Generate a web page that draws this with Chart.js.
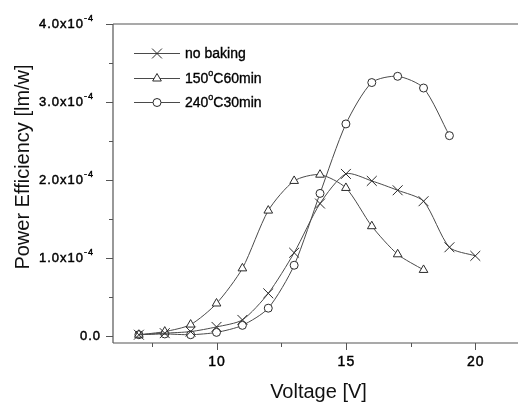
<!DOCTYPE html>
<html>
<head>
<meta charset="utf-8">
<script src="https://cdn.jsdelivr.net/npm/chart.js@4/dist/chart.umd.min.js"></script>
<style>
html,body{margin:0;padding:0;background:#fff;}
canvas{display:block;}
</style>
</head>
<body>
<canvas id="c" width="526" height="403"></canvas>
<script>
// ---- data (efficiency in units of 1e-4 lm/W) ----
const labels = ['no baking', '150°C60min', '240°C30min'];
const vNoBaking = [7, 8, 9, 10, 11, 12, 13, 14, 15, 16, 17, 18, 19, 20];
const effNoBaking = [0.02, 0.04, 0.06, 0.12, 0.21, 0.55, 1.07, 1.70, 2.08, 1.99, 1.87, 1.73, 1.14, 1.03];
const v150 = [7, 8, 9, 10, 11, 12, 13, 14, 15, 16, 17, 18];
const eff150 = [0.02, 0.06, 0.15, 0.42, 0.87, 1.61, 1.99, 2.07, 1.90, 1.41, 1.05, 0.85];
const v240 = [7, 8, 9, 10, 11, 12, 13, 14, 15, 16, 17, 18, 19];
const eff240 = [0.02, 0.03, 0.02, 0.05, 0.14, 0.36, 0.91, 1.83, 2.72, 3.25, 3.33, 3.18, 2.57];
const yTickValues = [0, 1, 2, 3, 4];
const yMinorValues = [0.5, 1.5, 2.5, 3.5];
const xTickValues = [10, 15, 20];
const xMinorValues = [7.5, 12.5, 17.5];
const yExponent = '-4';
const xTitle = 'Voltage [V]';
const yTitle = 'Power Efficiency [lm/w]';

const FONT = '"Liberation Sans", Arial, sans-serif';
const styles = ['crossRot', 'triangle', 'circle'];
const radii = [7, 5, 4];

function pts(xs, ys) { return xs.map((x, i) => ({x: x, y: ys[i]})); }

function ds(label, data, i) {
  return {
    label: label,
    data: data,
    showLine: true,
    borderColor: '#4a4a4a',
    borderWidth: 1,
    tension: 0.25,
    pointStyle: styles[i],
    pointRadius: radii[i],
    pointBorderColor: '#2a2a2a',
    pointBackgroundColor: '#ffffff',
    pointBorderWidth: 1
  };
}

function drawParts(ctx, parts, x, y, size, supSize, align, heavy) {
  let total = 0;
  const widths = parts.map(p => {
    ctx.font = (p.sup ? supSize : size) + 'px ' + FONT;
    const w = ctx.measureText(p.t).width;
    total += w;
    return w;
  });
  let cx = align === 'right' ? x - total : x;
  parts.forEach((p, i) => {
    ctx.font = (p.sup ? supSize : size) + 'px ' + FONT;
    const yy = p.sup ? y - size * 0.42 : y;
    ctx.fillText(p.t, cx, yy);
    if (heavy) { ctx.strokeText(p.t, cx, yy); }
    cx += widths[i];
  });
}

function splitDegree(label) {
  const idx = label.indexOf('°');
  if (idx < 0) return [{t: label}];
  return [{t: label.slice(0, idx)}, {t: 'o', sup: true}, {t: label.slice(idx + 1)}];
}

const decor = {
  id: 'decor',
  afterDraw(chart) {
    const ctx = chart.ctx;
    const a = chart.chartArea;
    const xs = chart.scales.x, ys = chart.scales.y;
    ctx.save();
    // axis frame (left, top, bottom)
    ctx.strokeStyle = '#555';
    ctx.lineWidth = 1.2;
    ctx.beginPath();
    ctx.moveTo(a.left, a.top); ctx.lineTo(a.right, a.top);
    ctx.moveTo(a.left, a.top); ctx.lineTo(a.left, a.bottom);
    ctx.moveTo(a.left, a.bottom); ctx.lineTo(a.right, a.bottom);
    ctx.stroke();
    // ticks
    ctx.lineWidth = 1;
    ctx.beginPath();
    yTickValues.forEach(v => { const p = Math.round(ys.getPixelForValue(v)) + 0.5; ctx.moveTo(a.left - 7, p); ctx.lineTo(a.left, p); });
    yMinorValues.forEach(v => { const p = Math.round(ys.getPixelForValue(v)) + 0.5; ctx.moveTo(a.left - 4, p); ctx.lineTo(a.left, p); });
    xTickValues.forEach(v => { const p = Math.round(xs.getPixelForValue(v)) + 0.5; ctx.moveTo(p, a.bottom); ctx.lineTo(p, a.bottom + 7); });
    xMinorValues.forEach(v => { const p = Math.round(xs.getPixelForValue(v)) + 0.5; ctx.moveTo(p, a.bottom); ctx.lineTo(p, a.bottom + 4); });
    ctx.stroke();
    // tick labels
    ctx.fillStyle = '#000';
    ctx.strokeStyle = '#000';
    ctx.lineWidth = 0.45;
    ctx.textBaseline = 'middle';
    ctx.textAlign = 'left';
    ctx.letterSpacing = '1px';
    yTickValues.forEach(v => {
      const p = ys.getPixelForValue(v);
      if (v === 0) {
        drawParts(ctx, [{t: v.toFixed(1)}], a.left - 12, p, 13, 9, 'right', true);
      } else {
        drawParts(ctx, [{t: v.toFixed(1) + 'x10'}, {t: yExponent, sup: true}], a.left - 19, p, 13, 9, 'right', true);
      }
    });
    xTickValues.forEach(v => {
      const p = xs.getPixelForValue(v);
      ctx.font = '14px ' + FONT;
      const w = ctx.measureText(String(v)).width;
      drawParts(ctx, [{t: String(v)}], p - w / 2 + 0.5, a.bottom + 19, 14, 9, 'left', true);
    });
    ctx.letterSpacing = '0px';
    // axis titles
    ctx.fillStyle = '#111';
    ctx.font = '20px ' + FONT;
    ctx.textAlign = 'center';
    ctx.fillText(xTitle, (a.left + a.right) / 2 + 3, a.bottom + 49);
    ctx.save();
    ctx.translate(23, 167);
    ctx.rotate(-Math.PI / 2);
    ctx.fillText(yTitle, 0, 0);
    ctx.restore();
    // legend
    ctx.textAlign = 'left';
    const rows = [53, 78, 102];
    chart.data.datasets.forEach((d, i) => {
      const y = rows[i];
      ctx.strokeStyle = '#4a4a4a';
      ctx.lineWidth = 1;
      ctx.beginPath();
      ctx.moveTo(134, y + 0.5); ctx.lineTo(180, y + 0.5);
      ctx.stroke();
      ctx.strokeStyle = '#2a2a2a';
      ctx.fillStyle = '#ffffff';
      Chart.helpers.drawPoint(ctx, {pointStyle: d.pointStyle, radius: d.pointRadius, rotation: 0, borderWidth: 1}, 157, y + 0.5);
      ctx.fillStyle = '#000';
      ctx.strokeStyle = '#000';
      ctx.lineWidth = 0.35;
      ctx.textBaseline = 'middle';
      drawParts(ctx, splitDegree(d.label), 185, y + 1, 14, 9, 'left', true);
    });
    ctx.restore();
  }
};

new Chart(document.getElementById('c'), {
  type: 'scatter',
  data: {
    datasets: [
      ds(labels[0], pts(vNoBaking, effNoBaking), 0),
      ds(labels[1], pts(v150, eff150), 1),
      ds(labels[2], pts(v240, eff240), 2)
    ]
  },
  options: {
    responsive: false,
    animation: false,
    devicePixelRatio: 1,
    layout: {padding: {top: 24, left: 0, right: 0, bottom: 0}},
    plugins: {legend: {display: false}, tooltip: {enabled: false}},
    scales: {
      x: {
        type: 'linear', min: 6, max: 21.65,
        ticks: {display: false}, grid: {display: false}, border: {display: false},
        afterFit(s) { s.height = 60; }
      },
      y: {
        type: 'linear', min: -0.086, max: 4.0,
        ticks: {display: false}, grid: {display: false}, border: {display: false},
        afterFit(s) { s.width = 113; }
      }
    }
  },
  plugins: [decor]
});
</script>
</body>
</html>
